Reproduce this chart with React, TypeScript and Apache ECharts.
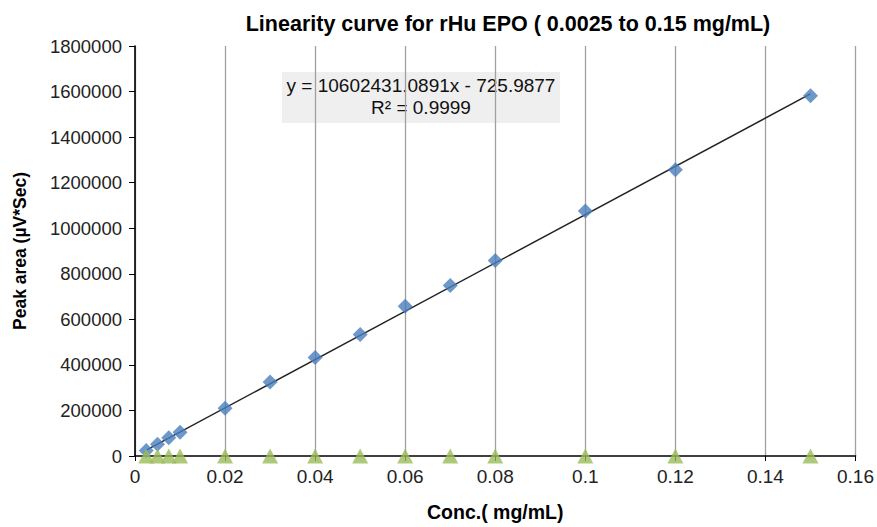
import React, { useEffect, useRef } from "react";
import * as echarts from "echarts";

const conc = [0.0025, 0.005, 0.0075, 0.01, 0.02, 0.03, 0.04, 0.05, 0.06, 0.07, 0.08, 0.1, 0.12, 0.15];
const peakArea = [24000, 52000, 80000, 104000, 210000, 325000, 432000, 533000, 657000, 748000, 858000, 1076000, 1257000, 1582000];
const residualMarks = [0, 0, 0, 0, 0, 0, 0, 0, 0, 0, 0, 0, 0, 0];
const slope = 10602431.0891;
const intercept = -725.9877;
const trendX = [0.0025, 0.15];
const equationLines = ["y = 10602431.0891x - 725.9877", "R² = 0.9999"];

const FONT = "'Liberation Sans', Arial, sans-serif";

export default function App() {
  const ref = useRef<HTMLDivElement>(null);
  useEffect(() => {
    if (!ref.current) return;
    const chart = echarts.init(ref.current, undefined, { renderer: "svg" });
    chart.setOption({
      animation: false,
      backgroundColor: "#ffffff",
      title: {
        text: "Linearity curve for rHu EPO ( 0.0025 to 0.15 mg/mL)",
        left: 503,
        top: 8,
        textAlign: "center",
        textStyle: { fontFamily: FONT, fontSize: 21.5, fontWeight: "bold", color: "#000" },
      },
      grid: { left: 135, right: 21, top: 46, bottom: 66 },
      xAxis: {
        type: "value",
        min: 0,
        max: 0.16,
        interval: 0.02,
        name: "Conc.( mg/mL)",
        nameLocation: "middle",
        nameGap: 46,
        nameTextStyle: { fontFamily: FONT, fontSize: 19.5, fontWeight: "bold", color: "#000" },
        axisLine: { show: true, onZero: false, lineStyle: { color: "#000", width: 1.6 } },
        axisTick: { show: true, inside: false, length: 5, lineStyle: { color: "#000" } },
        axisLabel: { fontFamily: FONT, fontSize: 19, color: "#222", margin: 11 },
        splitLine: { show: true, lineStyle: { color: "#a0a0a0", width: 1.3 } },
      },
      yAxis: {
        type: "value",
        min: 0,
        max: 1800000,
        interval: 200000,
        name: "Peak area (µV*Sec)",
        nameLocation: "middle",
        nameGap: 106,
        nameTextStyle: { fontFamily: FONT, fontSize: 17.5, fontWeight: "bold", color: "#000" },
        axisLine: { show: true, lineStyle: { color: "#000", width: 1.6 } },
        axisTick: { show: true, inside: false, length: 6, lineStyle: { color: "#000" } },
        axisLabel: {
          fontFamily: FONT,
          fontSize: 18.5,
          color: "#222",
          margin: 13,
          formatter: (v: number) => String(v),
        },
        splitLine: { show: false },
      },
      graphic: [
        {
          type: "group",
          left: 282,
          top: 72,
          children: [
            { type: "rect", shape: { x: 0, y: 0, width: 278, height: 51 }, style: { fill: "#efefef" } },
            {
              type: "text",
              x: 139,
              y: 2,
              style: {
                text: equationLines.join("\n"),
                fontFamily: FONT,
                fontSize: 19,
                lineHeight: 22.5,
                fill: "#111",
                align: "center",
                verticalAlign: "top",
              },
            },
          ],
        },
      ],
      series: [
        {
          type: "line",
          data: trendX.map((x) => [x, slope * x + intercept]),
          symbol: "none",
          lineStyle: { color: "#222", width: 1.4 },
          z: 3,
        },
        {
          type: "scatter",
          data: conc.map((x, i) => [x, peakArea[i]]),
          symbol: "diamond",
          symbolSize: [15, 15],
          itemStyle: { color: "#4a7ebb" },
          z: 4,
        },
        {
          type: "scatter",
          data: conc.map((x, i) => [x, residualMarks[i]]),
          symbol: "triangle",
          symbolSize: [16, 15],
          itemStyle: { color: "#9bbb59" },
          z: 5,
        },
      ],
    });
    return () => chart.dispose();
  }, []);
  return <div ref={ref} style={{ width: 877, height: 527, position: "absolute", left: 0, top: 0 }} />;
}
